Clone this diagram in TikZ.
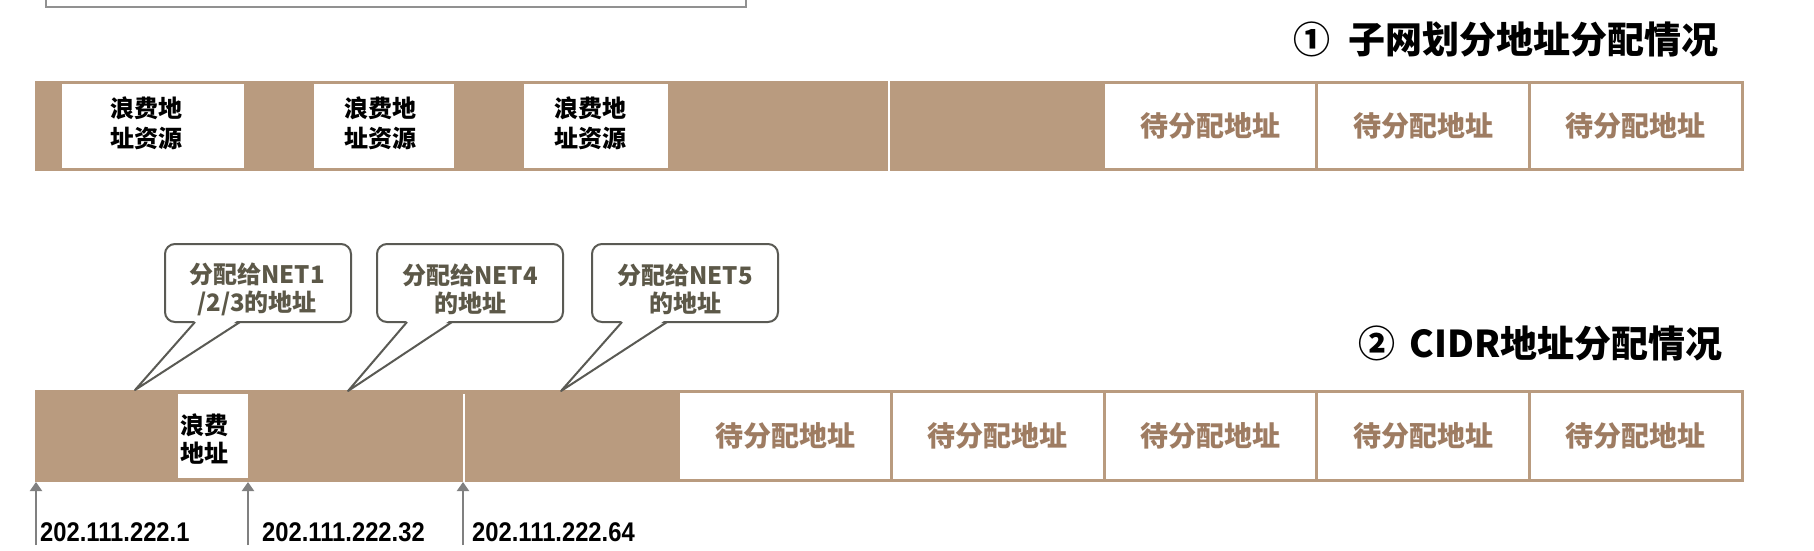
\documentclass[tikz,border=0pt]{standalone}
\usepackage{fontspec}
\newfontfamily\cjk{Noto Sans CJK SC}
\newfontfamily\ipfont[FakeStretch=0.88]{Liberation Sans}
\usetikzlibrary{arrows.meta,calc}
\definecolor{barbrown}{RGB}{185,155,127}
\definecolor{celltext}{RGB}{158,124,98}
\definecolor{callgray}{RGB}{90,90,84}
\definecolor{calltext}{RGB}{92,88,72}
\definecolor{arrowgray}{RGB}{128,128,128}
\definecolor{boxgray}{RGB}{145,145,145}
\tikzset{
  bar/.style={fill=barbrown, draw=none, inner sep=0pt, minimum width=1707pt, anchor=north west},
  cellbox/.style={fill=white, draw=barbrown, line width=3pt, inner sep=0pt, minimum width=212.7pt, minimum height=87pt, text=celltext, font=\cjk\bfseries\fontsize{28}{30}\selectfont},
  wastebox/.style={fill=white, draw=none, inner sep=0pt, anchor=north west},
  wastetext/.style={font=\cjk\bfseries\fontsize{24}{30}\selectfont, align=center, inner sep=0pt, text=black},
  callbox/.style={fill=white, draw=callgray, line width=2pt, rounded corners=10pt, minimum width=186pt, minimum height=78pt, inner sep=0pt, outer sep=0pt},
  calltxt/.style={align=center, inner sep=0pt, text=calltext, font=\cjk\bfseries\fontsize{24}{28}\selectfont},
  tail/.style={draw=callgray, line width=2pt, line join=round},
  sepline/.style={draw=white, line width=1.5pt},
  iparrow/.style={draw=arrowgray, line width=2pt, -{Triangle[width=12pt,length=9pt]}},
  iplabel/.style={font=\ipfont\bfseries\fontsize{27}{29}\selectfont, anchor=west, inner sep=0pt},
  titletext/.style={font=\cjk\bfseries\fontsize{37}{40}\selectfont, anchor=east, inner sep=0pt},
}
\begin{document}
\begin{tikzpicture}[x=1pt,y=-1pt]
\useasboundingbox (0,0) rectangle (1814,550);
\clip (0,0) rectangle (1814,550);
\fill[white] (0,0) rectangle (1814,550);

% top partial box
\draw[boxgray, line width=2.5pt] (46,-10) rectangle (746,7);

% titles
\node[titletext] (title1) at (1719,39) {①\hspace{0.5em}子网划分地址分配情况};
\node[titletext] (title2) at (1723,343) {②\hspace{0.4em}CIDR地址分配情况};

% ---------- bar 1 ----------
\node[bar, minimum height=90pt] (bar1) at (35,81) {};
\draw[sepline] (889,81) -- (889,171);
\node[wastebox, minimum width=182pt, minimum height=84pt] (w1) at (62,84) {};
\node[wastebox, minimum width=140pt, minimum height=84pt] (w2) at (314,84) {};
\node[wastebox, minimum width=144pt, minimum height=84pt] (w3) at (524,84) {};
\node[wastetext] (w1t) at (146.5,123) {浪费地\\址资源};
\node[wastetext] (w2t) at (380,123) {浪费地\\址资源};
\node[wastetext] (w3t) at (590,123) {浪费地\\址资源};
\node[cellbox] (a1) at (1210.3,126) {待分配地址};
\node[cellbox] (a2) at (1423,126) {待分配地址};
\node[cellbox] (a3) at (1635.7,126) {待分配地址};

% ---------- bar 2 ----------
\node[bar, minimum height=92pt] (bar2) at (35,390) {};
\draw[sepline] (464,394) -- (464,482);
\node[wastebox, minimum width=70pt, minimum height=84pt] (w4) at (178,394) {};
\node[wastetext, font=\cjk\bfseries\fontsize{24}{28}\selectfont] (w4t) at (204,439) {浪费\\地址};
\node[cellbox, minimum height=89pt] (b1) at (785.3,436) {待分配地址};
\node[cellbox, minimum height=89pt] (b2) at (997.9,436) {待分配地址};
\node[cellbox, minimum height=89pt] (b3) at (1210.5,436) {待分配地址};
\node[cellbox, minimum height=89pt] (b4) at (1423.1,436) {待分配地址};
\node[cellbox, minimum height=89pt] (b5) at (1635.7,436) {待分配地址};

% ---------- callouts ----------
\node[callbox] (c1) at (258,283) {};
\node[callbox] (c2) at (470,283) {};
\node[callbox] (c3) at (685,283) {};
\node[calltxt] (c1t) at (257,289) {分配给NET1\\/2/3的地址};
\node[calltxt] (c2t) at (470,289) {分配给NET4\\的地址};
\node[calltxt] (c3t) at (685,289) {分配给NET5\\的地址};
\coordinate (t1) at (135,390);
\coordinate (t2) at (348,391);
\coordinate (t3) at (561,391);
\foreach \c/\t in {c1/t1,c2/t2,c3/t3}{
  \fill[white] ($(\c.south west)+(31,-2.5)$) -- (\t) -- ($(\c.south west)+(74,-2.5)$) -- cycle;
  \draw[tail] ($(\c.south west)+(30,0)$) -- (\t) -- ($(\c.south west)+(75,0)$);
}

% ---------- address arrows ----------
\coordinate (p1s) at (36,545);  \coordinate (p1e) at (36,482);
\coordinate (p2s) at (248,545); \coordinate (p2e) at (248,482);
\coordinate (p3s) at (463,545); \coordinate (p3e) at (463,482);
\draw[iparrow] (p1s) -- (p1e);
\draw[iparrow] (p2s) -- (p2e);
\draw[iparrow] (p3s) -- (p3e);
\node[iplabel] (ip1) at (40,532) {202.111.222.1};
\node[iplabel] (ip2) at (262,532) {202.111.222.32};
\node[iplabel] (ip3) at (472,532) {202.111.222.64};
\end{tikzpicture}
\end{document}
